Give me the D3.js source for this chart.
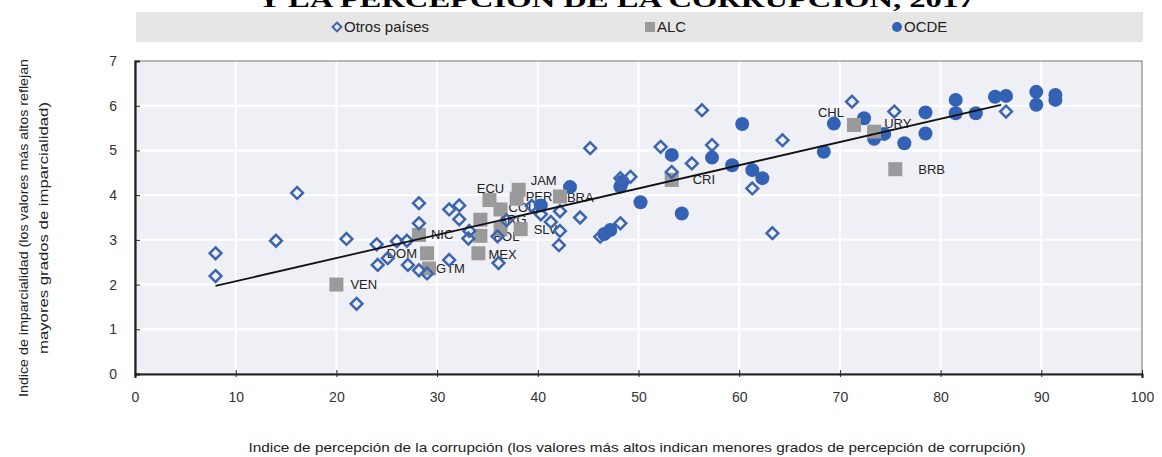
<!DOCTYPE html>
<html>
<head>
<meta charset="utf-8">
<script src="https://cdn.jsdelivr.net/npm/d3@7"></script>
<style>
  body { margin: 0; background: #fff; }
  svg { display: block; }
</style>
</head>
<body>
<svg id="chart" width="1162" height="457"></svg>
<script>
// Índice de percepción de la corrupción (x) vs índice de imparcialidad (y)
const otrosCPI = [8.0, 8.0, 14.0, 16.1, 21.0, 22.0, 24.0, 24.1, 25.1, 26.0, 27.0, 27.1, 28.2, 28.2, 28.2, 29.0,
  31.2, 32.2, 32.2, 33.2, 33.1, 31.2, 36.1, 36.9, 36.0, 39.4, 40.3, 41.3, 42.2, 42.2, 42.1, 44.2, 45.2, 46.2,
  48.2, 49.2, 48.2, 52.2, 53.3, 55.3, 56.3, 57.3, 61.3, 63.3, 64.3, 71.2, 75.4, 86.5];
const otrosImp = [2.70, 2.19, 2.98, 4.05, 3.02, 1.57, 2.90, 2.44, 2.59, 2.97, 2.98, 2.44, 3.82, 3.37, 2.32, 2.25,
  3.68, 3.77, 3.46, 3.20, 3.03, 2.55, 2.48, 3.44, 3.08, 3.76, 3.57, 3.40, 3.64, 3.20, 2.88, 3.50, 5.05, 3.07,
  4.38, 4.41, 3.37, 5.08, 4.52, 4.71, 5.90, 5.12, 4.15, 3.15, 5.23, 6.09, 5.87, 5.87];

const alcCodes = ["VEN", "NIC", "DOM", "GTM", "MEX", "BOL", "ARG", "", "ECU", "COL", "PER", "JAM", "SLV", "BRA", "CRI", "CHL", "URY", "BRB"];
const alcCPI = [20.0, 28.2, 29.0, 29.2, 34.1, 34.3, 34.3, 36.3, 35.2, 36.3, 37.9, 38.1, 38.3, 42.2, 53.3, 71.4, 73.4, 75.5];
const alcImp = [2.00, 3.11, 2.70, 2.36, 2.70, 3.09, 3.45, 3.24, 3.89, 3.68, 3.92, 4.12, 3.24, 3.97, 4.34, 5.57, 5.42, 4.58];

const ocdeCPI = [40.3, 43.2, 48.4, 48.2, 50.2, 47.2, 46.6, 53.3, 54.3, 57.3, 59.3, 60.3, 61.3, 62.3, 68.4, 69.4,
  72.4, 73.4, 74.4, 76.4, 78.5, 78.5, 81.5, 81.5, 83.5, 85.4, 86.5, 89.5, 89.5, 91.4, 91.4];
const ocdeImp = [3.77, 4.18, 4.30, 4.19, 3.84, 3.22, 3.13, 4.90, 3.59, 4.84, 4.67, 5.59, 4.56, 4.38, 4.97, 5.60,
  5.72, 5.26, 5.37, 5.16, 5.85, 5.38, 6.13, 5.83, 5.83, 6.20, 6.22, 6.31, 6.02, 6.24, 6.13];

// Línea de tendencia: intercepto, pendiente y tramo de x
const trendCoef = [1.555, 0.0519];
const trendRange = [8, 86];

const xTicks = [0, 10, 20, 30, 40, 50, 60, 70, 80, 90, 100];
const yTicks = [0, 1, 2, 3, 4, 5, 6, 7];
const legendLabels = ["Otros países", "ALC", "OCDE"];

const titleText = "Y LA PERCEPCIÓN DE LA CORRUPCIÓN, 2017";
const xTitle = "Indice de percepción de la corrupción (los valores más altos indican menores grados de percepción de corrupción)";
const yTitle = ["Indice de imparcialidad (los valores más altos reflejan", "mayores grados de imparcialidad)"];

// Colocación de las etiquetas de país: [dx, dy, anclaje]
const labelPlacement = {
  VEN: [14, 0, "start"], NIC: [12, 0, "start"], DOM: [-10, 0, "end"], GTM: [7, 0, "start"],
  MEX: [10, 1, "start"], BOL: [13, 1, "start"], ARG: [18, 0, "start"], ECU: [1, -12, "middle"],
  COL: [8, -2, "start"], PER: [9, -2, "start"], JAM: [12, -9, "start"], SLV: [13, 0, "start"],
  BRA: [7, 1, "start"], CRI: [21, 0, "start"], CHL: [-10, -12, "end"], URY: [10, -8, "start"],
  BRB: [23, 0, "start"]
};

const BLUE = "#3361b3";
const DIAMOND = "#3d65ae";
const GREY = "#9a9a9a";
const FONT = "'Liberation Sans', Arial, sans-serif";
const NARROW = "'Liberation Sans Narrow', 'Liberation Sans', Arial, sans-serif";

const svg = d3.select("#chart");
const plot = { left: 135, right: 1142, top: 61, bottom: 374 };

const x = d3.scaleLinear().domain([0, 100]).range([plot.left, plot.right]);
const y = d3.scaleLinear().domain([0, 7]).range([plot.bottom, plot.top]);

// Título (solo se ve la parte baja de la última línea)
svg.append("text")
  .attr("x", 616).attr("y", 7)
  .attr("text-anchor", "middle")
  .attr("font-family", "'Liberation Serif', 'Times New Roman', serif")
  .attr("font-weight", "bold")
  .attr("font-size", 24)
  .attr("textLength", 717).attr("lengthAdjust", "spacingAndGlyphs")
  .attr("fill", "#000")
  .text(titleText);

// Banda de leyenda
svg.append("rect")
  .attr("x", 136).attr("y", 12).attr("width", 1007).attr("height", 30)
  .attr("fill", "#e6e6e6");

const legendX = [337, 650, 897];
const lg = svg.append("g");
lg.append("path")
  .attr("d", d3.symbol(d3.symbolDiamond2, 50)())
  .attr("transform", `translate(${legendX[0]},27)`)
  .attr("fill", "none").attr("stroke", DIAMOND).attr("stroke-width", 2);
lg.append("rect").attr("x", legendX[1] - 5).attr("y", 22).attr("width", 10).attr("height", 10).attr("fill", GREY);
lg.append("circle").attr("cx", legendX[2]).attr("cy", 27).attr("r", 5).attr("fill", BLUE);
legendLabels.forEach((t, i) => {
  lg.append("text")
    .attr("x", legendX[i] + 7).attr("y", 32)
    .attr("font-family", NARROW).attr("font-size", 15).attr("fill", "#222")
    .text(t);
});

// Fondo del área de trazado
svg.append("rect")
  .attr("x", plot.left).attr("y", plot.top)
  .attr("width", plot.right - plot.left).attr("height", plot.bottom - plot.top)
  .attr("fill", "#eff0f6");

// Cuadrícula
const grid = svg.append("g").attr("stroke", "#ffffff").attr("stroke-width", 2);
grid.selectAll("line.h").data(yTicks.filter(t => t > 0 && t < 7)).join("line")
  .attr("x1", plot.left).attr("x2", plot.right)
  .attr("y1", d => y(d)).attr("y2", d => y(d));
grid.selectAll("line.v").data(xTicks.filter(t => t > 0 && t < 100)).join("line")
  .attr("y1", plot.top).attr("y2", plot.bottom)
  .attr("x1", d => x(d)).attr("x2", d => x(d));

// Marco
svg.append("rect")
  .attr("x", plot.left).attr("y", plot.top)
  .attr("width", plot.right - plot.left).attr("height", plot.bottom - plot.top)
  .attr("fill", "none").attr("stroke", "#555").attr("stroke-width", 0.8);

// Ejes
const xAxis = d3.axisBottom(x).tickValues(xTicks).tickSize(4).tickPadding(14).tickFormat(d3.format("d"));
const gx = svg.append("g").attr("transform", `translate(0,${plot.bottom})`).call(xAxis);
gx.select(".domain").attr("stroke", "#222").attr("stroke-width", 2.2);
gx.selectAll(".tick line").attr("stroke", "#222").attr("y1", -4).attr("y2", 3);
gx.selectAll(".tick text").attr("font-family", FONT).attr("font-size", 14).attr("fill", "#333");

const yAxis = d3.axisLeft(y).tickValues(yTicks).tickSize(-5).tickPadding(18).tickFormat(d3.format("d"));
const gy = svg.append("g").attr("transform", `translate(${plot.left},0)`).call(yAxis);
gy.select(".domain").attr("stroke", "#222").attr("stroke-width", 2.2);
gy.selectAll(".tick line").attr("stroke", "#222");
gy.selectAll(".tick text").attr("font-family", FONT).attr("font-size", 14).attr("fill", "#333");

// Títulos de ejes
svg.append("text")
  .attr("x", 637).attr("y", 452)
  .attr("text-anchor", "middle")
  .attr("font-family", NARROW).attr("font-size", 13).attr("fill", "#222")
  .attr("textLength", 777).attr("lengthAdjust", "spacingAndGlyphs")
  .text(xTitle);

const yt = svg.append("g").attr("transform", "translate(0,228) rotate(-90)");
yt.append("text").attr("x", 0).attr("y", 28).attr("text-anchor", "middle")
  .attr("font-family", NARROW).attr("font-size", 13).attr("fill", "#222")
  .attr("textLength", 338).attr("lengthAdjust", "spacingAndGlyphs")
  .text(yTitle[0]);
yt.append("text").attr("x", 0).attr("y", 48).attr("text-anchor", "middle")
  .attr("font-family", NARROW).attr("font-size", 13).attr("fill", "#222")
  .attr("textLength", 252).attr("lengthAdjust", "spacingAndGlyphs")
  .text(yTitle[1]);

// Datos por grupo
const ocde = ocdeCPI.map((v, i) => ({ x: v, y: ocdeImp[i] }));
const otros = otrosCPI.map((v, i) => ({ x: v, y: otrosImp[i] }));
const alc = alcCPI.map((v, i) => ({ x: v, y: alcImp[i], code: alcCodes[i] }));

// Etiquetas de los países de ALC (debajo de los marcadores)
svg.append("g").selectAll("text").data(alc.filter(d => d.code)).join("text")
  .attr("x", d => x(d.x) + labelPlacement[d.code][0])
  .attr("y", d => y(d.y) + labelPlacement[d.code][1])
  .attr("dy", "0.35em")
  .attr("text-anchor", d => labelPlacement[d.code][2])
  .attr("font-family", FONT).attr("font-size", 13).attr("fill", "#222")
  .text(d => d.code);

// Marcas
const marks = svg.append("g");

marks.selectAll("circle.ocde").data(ocde).join("circle")
  .attr("cx", d => x(d.x)).attr("cy", d => y(d.y)).attr("r", 7)
  .attr("fill", BLUE);

marks.selectAll("rect.alc").data(alc).join("rect")
  .attr("x", d => x(d.x) - 7).attr("y", d => y(d.y) - 7)
  .attr("width", 14).attr("height", 14)
  .attr("fill", GREY);

const diamond = d3.symbol(d3.symbolDiamond2, 88);
marks.selectAll("path.otros").data(otros).join("path")
  .attr("d", diamond())
  .attr("transform", d => `translate(${x(d.x)},${y(d.y)})`)
  .attr("fill", "none").attr("stroke", DIAMOND).attr("stroke-width", 2.5);

// Tendencia lineal
const trendLine = d3.line().x(d => x(d)).y(d => y(trendCoef[0] + trendCoef[1] * d));
svg.append("path")
  .attr("d", trendLine(trendRange))
  .attr("fill", "none").attr("stroke", "#111").attr("stroke-width", 1.8);
</script>
</body>
</html>
